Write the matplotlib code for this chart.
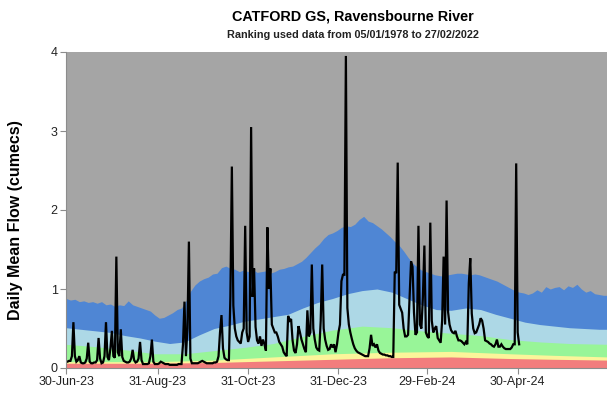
import datetime as dt
import matplotlib
matplotlib.use("Agg")
import matplotlib.pyplot as plt
import matplotlib.dates as mdates

plt.rcParams["font.family"] = ["Liberation Sans", "DejaVu Sans"]

# ---- data -------------------------------------------------------------
start = dt.date(2023, 6, 30)

# Daily mean flow (cumecs), one value per day from 30-Jun-23
flow = [
    0.08, 0.08, 0.09, 0.09, 0.15, 0.58, 0.15, 0.08, 0.10, 0.15,
    0.07, 0.06, 0.06, 0.07, 0.12, 0.32, 0.08, 0.06, 0.06, 0.07,
    0.07, 0.10, 0.38, 0.12, 0.06, 0.07, 0.15, 0.58, 0.14, 0.10,
    0.25, 0.47, 0.15, 0.13, 1.41, 0.20, 0.15, 0.49, 0.14, 0.09,
    0.08, 0.07, 0.07, 0.08, 0.12, 0.23, 0.10, 0.07, 0.08, 0.12,
    0.33, 0.10, 0.05, 0.05, 0.05, 0.05, 0.06, 0.15, 0.36, 0.08,
    0.05, 0.05, 0.05, 0.06, 0.08, 0.07, 0.06, 0.05, 0.05, 0.05,
    0.04, 0.04, 0.04, 0.04, 0.04, 0.04, 0.05, 0.05, 0.05, 0.30,
    0.84, 0.15, 0.50, 1.60, 0.12, 0.06, 0.06, 0.06, 0.06, 0.06,
    0.07, 0.08, 0.09, 0.08, 0.07, 0.06, 0.06, 0.06, 0.06, 0.06,
    0.07, 0.07, 0.08, 0.15, 0.45, 0.67, 0.25, 0.13, 0.11, 0.10,
    0.10, 0.90, 2.55, 0.79, 0.50, 0.40, 0.35, 0.33, 0.31, 0.45,
    0.50, 1.80, 0.45, 0.33, 0.40, 3.05, 0.90, 1.26, 0.52, 0.35,
    0.31, 0.40, 0.28, 0.36, 0.30, 0.22, 1.78, 1.00, 1.26, 0.55,
    0.50, 0.45, 0.45, 0.40, 0.33, 0.30, 0.27, 0.20, 0.17, 0.15,
    0.66, 0.60, 0.62, 0.35, 0.22, 0.19, 0.30, 0.53, 0.45, 0.36,
    0.30, 0.24, 0.20, 0.73, 0.40, 0.45, 1.31, 0.50, 0.36, 0.26,
    0.23, 0.22, 0.60, 1.31, 0.50, 0.36, 0.28, 0.23, 0.24, 0.30,
    0.26, 0.30, 0.20, 0.30, 0.45, 0.55, 1.10, 1.18, 1.18, 3.95,
    0.76, 0.55, 0.45, 0.37, 0.30, 0.25, 0.22, 0.20, 0.19, 0.18,
    0.17, 0.16, 0.15, 0.15, 0.15, 0.25, 0.42, 0.28, 0.30, 0.26,
    0.30, 0.22, 0.19, 0.18, 0.17, 0.17, 0.16, 0.16, 0.15, 0.15,
    0.14, 0.14, 1.22, 1.20, 2.60, 0.80, 0.75, 0.70, 0.50, 0.40,
    0.40, 0.42, 0.90, 1.35, 1.28, 0.70, 0.42, 0.45, 1.80, 0.55,
    0.50, 0.90, 1.55, 0.45, 0.40, 0.38, 1.84, 0.60, 0.45, 0.50,
    0.53, 0.38, 0.35, 0.32, 0.60, 1.41, 0.55, 2.12, 0.71, 0.55,
    0.48, 0.45, 0.44, 0.47, 0.40, 0.35, 0.35, 0.34, 0.32, 0.30,
    0.33, 0.30, 1.07, 1.39, 0.69, 0.50, 0.44, 0.45, 0.50, 0.55,
    0.63, 0.60, 0.50, 0.35, 0.34, 0.33, 0.31, 0.30, 0.28, 0.27,
    0.30, 0.36, 0.27, 0.27, 0.30, 0.27, 0.25, 0.24, 0.24, 0.24,
    0.24, 0.26, 0.30, 0.30, 2.59, 0.45, 0.30,
]

# Ranking band boundaries: (day offset from 30-Jun-23, flow)
high_days = list(range(0, 367, 3))
high_vals = [
    0.88, 0.86, 0.87, 0.84, 0.85, 0.83, 0.84, 0.82, 0.84, 0.80,
    0.81, 0.78, 0.80, 0.79, 0.85, 0.80, 0.78, 0.76, 0.74, 0.72,
    0.67, 0.63, 0.64, 0.67, 0.70, 0.74, 0.76, 0.85, 0.97, 1.05,
    1.10, 1.13, 1.15, 1.19, 1.20, 1.27, 1.29, 1.26, 1.25, 1.22,
    1.24, 1.22, 1.25, 1.21, 1.22, 1.23, 1.20, 1.22, 1.25, 1.26,
    1.28, 1.29, 1.32, 1.35, 1.40, 1.46, 1.52, 1.57, 1.64, 1.69,
    1.71, 1.74, 1.78, 1.80, 1.79, 1.82, 1.88, 1.92, 1.86, 1.84,
    1.80, 1.76, 1.71, 1.66, 1.60, 1.55, 1.48, 1.40, 1.33, 1.28,
    1.24, 1.22, 1.20, 1.18, 1.17, 1.16, 1.18, 1.19, 1.20, 1.20,
    1.19, 1.18, 1.19, 1.18, 1.16, 1.14, 1.12, 1.10, 1.07, 1.04,
    1.01, 0.98, 0.96, 0.95, 0.93, 0.95, 0.99, 0.96, 1.03, 1.00,
    1.02, 1.03, 0.99, 1.04, 1.02, 1.06, 1.00, 0.96, 0.98, 0.94,
    0.93, 0.92, 0.92,
]

above_days = [0, 10, 20, 30, 40, 50, 60, 70, 80, 90, 100, 110, 120, 130,
              140, 150, 160, 170, 180, 190, 200, 210, 220, 230, 240, 250,
              260, 270, 280, 290, 300, 310, 320, 330, 340, 350, 360, 366]
above_vals = [0.51, 0.49, 0.47, 0.45, 0.41, 0.38, 0.34, 0.31, 0.33, 0.42,
              0.50, 0.54, 0.59, 0.62, 0.65, 0.68, 0.76, 0.83, 0.88, 0.94,
              0.98, 1.00, 0.96, 0.88, 0.80, 0.74, 0.73, 0.76, 0.74, 0.68,
              0.63, 0.58, 0.55, 0.53, 0.51, 0.50, 0.49, 0.49]

normal_days = [0, 20, 40, 60, 80, 100, 120, 140, 160, 180, 200, 220, 240,
               260, 280, 300, 320, 340, 366]
normal_vals = [0.30, 0.27, 0.23, 0.18, 0.18, 0.22, 0.26, 0.31, 0.40, 0.48,
               0.53, 0.51, 0.47, 0.44, 0.41, 0.36, 0.33, 0.31, 0.30]

below_days = [0, 60, 100, 140, 180, 220, 260, 300, 330, 366]
below_vals = [0.08, 0.08, 0.10, 0.14, 0.18, 0.20, 0.21, 0.18, 0.16, 0.14]

low_days = [0, 60, 100, 140, 180, 220, 260, 300, 330, 366]
low_vals = [0.06, 0.06, 0.07, 0.09, 0.11, 0.13, 0.14, 0.12, 0.11, 0.10]

y_max = 4
tick_dates = ["2023-06-30", "2023-08-31", "2023-10-31",
              "2023-12-31", "2024-02-29", "2024-04-30"]

# ---- helpers ----------------------------------------------------------
def to_dates(days):
    return [start + dt.timedelta(days=d) for d in days]

# ---- figure -----------------------------------------------------------
fig = plt.figure(figsize=(6.07, 3.94), dpi=100)
ax = fig.add_axes([66 / 607, 26 / 394, 542 / 607, 316 / 394])

end = start + dt.timedelta(days=366)
ax.fill_between([start, end], 0, y_max, color="#a5a5a5", lw=0)
ax.fill_between(to_dates(high_days), 0, high_vals, color="#4f86d4", lw=0)
ax.fill_between(to_dates(above_days), 0, above_vals, color="#add8e6", lw=0)
ax.fill_between(to_dates(normal_days), 0, normal_vals, color="#98f598", lw=0)
ax.fill_between(to_dates(below_days), 0, below_vals, color="#fbf59a", lw=0)
ax.fill_between(to_dates(low_days), 0, low_vals, color="#f27d7d", lw=0)

ax.plot(to_dates(range(len(flow))), flow, color="black", lw=1.6,
        solid_joinstyle="miter")

ax.set_xlim(start, end)
ax.set_ylim(0, y_max)
ax.set_yticks(range(0, y_max + 1))
ax.set_xticks([dt.date.fromisoformat(s) for s in tick_dates])
ax.xaxis.set_major_formatter(mdates.DateFormatter("%d-%b-%y"))

for side in ("top", "right"):
    ax.spines[side].set_visible(False)
for side in ("left", "bottom"):
    ax.spines[side].set_color("#8c8c8c")
    ax.spines[side].set_linewidth(0.8)
ax.tick_params(axis="both", direction="out", length=4, width=0.8,
               color="#8c8c8c", labelsize=9, labelcolor="#222222", pad=2)

fig.text(16 / 607, 1 - 220 / 394, "Daily Mean Flow (cumecs)", rotation=90,
         ha="center", va="center", fontsize=11.5, fontweight="bold")

fig.text(0.582, 0.957, "CATFORD GS, Ravensbourne River", ha="center",
         va="center", fontsize=10.4, fontweight="bold")
fig.text(0.582, 0.912, "Ranking used data from 05/01/1978 to 27/02/2022",
         ha="center", va="center", fontsize=7.8, fontweight="bold",
         color="#222222")

fig.savefig("out.png", dpi=100)
